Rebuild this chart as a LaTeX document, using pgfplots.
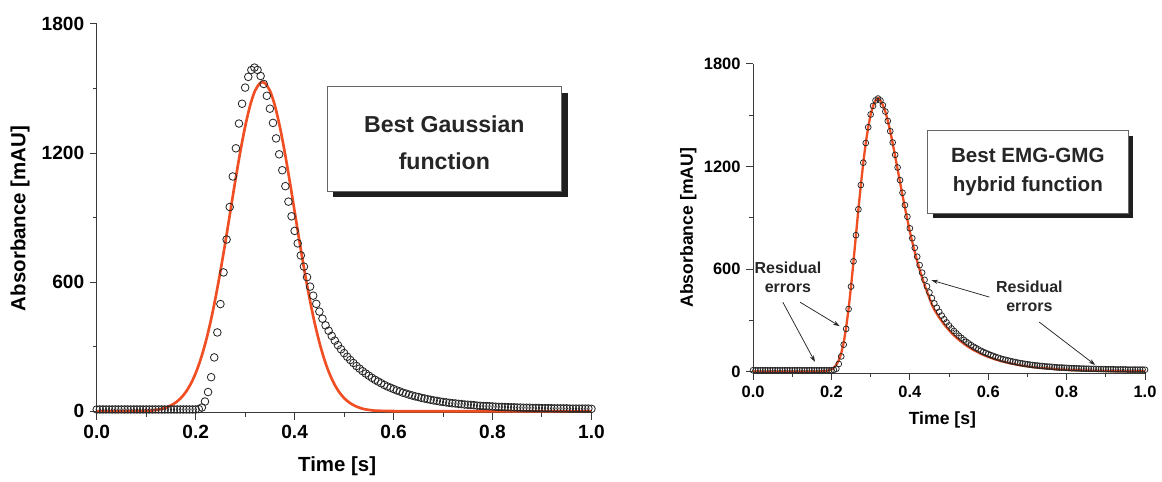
\documentclass[border=0pt]{standalone}
\usepackage{pgfplots}
\pgfplotsset{compat=1.18}
\usepackage{pgfplotstable}
\usepackage{fontspec}
\setmainfont{Liberation Sans}
\usetikzlibrary{arrows.meta}

\definecolor{fitred}{HTML}{F04E23}
\definecolor{axisgray}{HTML}{3A3A3A}

% measured peak (y) and EMG-GMG hybrid fit (h)
\pgfplotstableread{
x y h
0 8 0
0.00625 8 0
0.0125 8 0
0.01875 8 0
0.025 8 0
0.03125 8 0
0.0375 8 0
0.04375 8 0
0.05 8 0
0.05625 8 0
0.0625 8 0
0.06875 8 0
0.075 8 0
0.08125 8 0
0.0875 8 0
0.09375 8 0
0.1 8 0
0.10625 8 0
0.1125 8 0
0.11875 8 0
0.125 8 0
0.13125 8 0
0.1375 8 0
0.14375 8 0
0.15 8 0
0.15625 8 0
0.1625 8 0
0.16875 8 1
0.175 8 2
0.18125 8 3
0.1875 8 5
0.19375 8 8
0.2 8 14
0.20625 10 24
0.2125 17 40
0.21875 45 66
0.225 89 108
0.23125 158 170
0.2375 250 258
0.24375 366 368
0.25 498 498
0.25625 645 645
0.2625 798 798
0.26875 949 949
0.275 1091 1091
0.28125 1222 1222
0.2875 1337 1337
0.29375 1429 1429
0.3 1504 1504
0.30625 1554 1554
0.3125 1586 1586
0.31875 1597 1600
0.325 1586 1586
0.33125 1558 1558
0.3375 1521 1521
0.34375 1466 1466
0.35 1406 1406
0.35625 1340 1335
0.3625 1268 1260
0.36875 1194 1184
0.375 1120 1108
0.38125 1046 1032
0.3875 974 958
0.39375 906 888
0.4 838 819
0.40625 780 758
0.4125 724 700
0.41875 672 646
0.425 623 596
0.43125 579 550
0.4375 537 507
0.44375 499 468
0.45 463 430
0.45625 430 391
0.4625 399 362
0.46875 374 339
0.475 350 316
0.48125 328 296
0.4875 307 276
0.49375 288 259
0.5 270 242
0.50625 253 226
0.5125 238 212
0.51875 224 199
0.525 210 186
0.53125 198 175
0.5375 186 164
0.54375 175 153
0.55 165 144
0.55625 155 135
0.5625 146 126
0.56875 138 119
0.575 130 112
0.58125 122 104
0.5875 115 98
0.59375 109 92
0.6 103 86
0.60625 97 81
0.6125 92 76
0.61875 86 71
0.625 82 67
0.63125 77 62
0.6375 73 59
0.64375 69 55
0.65 66 52
0.65625 62 48
0.6625 59 46
0.66875 56 43
0.675 53 40
0.68125 50 37
0.6875 48 35
0.69375 45 33
0.7 43 31
0.70625 41 29
0.7125 39 27
0.71875 37 25
0.725 36 24
0.73125 34 22
0.7375 33 21
0.74375 31 20
0.75 30 19
0.75625 29 18
0.7625 28 17
0.76875 26 15
0.775 25 14
0.78125 24 13
0.7875 24 13
0.79375 23 12
0.8 22 11
0.80625 21 10
0.8125 20 9
0.81875 20 9
0.825 19 8
0.83125 19 8
0.8375 18 7
0.84375 18 7
0.85 17 7
0.85625 17 6
0.8625 16 6
0.86875 16 5
0.875 16 5
0.88125 15 5
0.8875 15 5
0.89375 15 4
0.9 14 4
0.90625 14 4
0.9125 14 3
0.91875 14 3
0.925 13 3
0.93125 13 3
0.9375 13 3
0.94375 13 3
0.95 13 3
0.95625 12 2
0.9625 12 2
0.96875 12 2
0.975 12 2
0.98125 12 2
0.9875 12 2
0.99375 12 2
1 11 2
}\peakdata

% best single-Gaussian fit
\pgfplotstableread{
x g
0 0
0.05 0
0.08 1
0.1 2
0.11 3
0.12 6
0.13 10
0.14 17
0.15 27
0.16 41
0.17 61
0.18 89
0.19 127
0.2 177
0.21 241
0.22 320
0.23 415
0.24 526
0.25 651
0.26 786
0.27 928
0.28 1070
0.29 1204
0.3 1323
0.31 1421
0.32 1490
0.33 1525
0.335 1530
0.34 1525
0.35 1490
0.36 1421
0.37 1323
0.38 1204
0.39 1070
0.4 928
0.41 786
0.42 651
0.43 526
0.44 415
0.45 320
0.46 241
0.47 177
0.48 127
0.49 89
0.5 61
0.51 41
0.52 27
0.53 17
0.54 10
0.55 6
0.56 3
0.57 2
0.59 1
0.62 0
1 0
}\gaussfit

\pgfplotsset{
  panel/.style={
    scale only axis,
    xmin=0, xmax=1, ymin=-8, ymax=1800,
    axis x line*=bottom, axis y line*=left,
    axis line style={axisgray, line width=0.6pt},
    every tick/.style={axisgray, line width=0.6pt},
    tick align=outside,
    major tick length=4pt, minor tick length=2.4pt,
    xtick={0,0.2,0.4,0.6,0.8,1},
    ytick={0,600,1200,1800},
    minor x tick num=1, minor y tick num=1,
    /pgf/number format/assume math mode=true,
    /pgf/number format/1000 sep={},
    xticklabel style={/pgf/number format/.cd, fixed, fixed zerofill, precision=1},
    yticklabel style={/pgf/number format/.cd, fixed, precision=0},
    clip=false,
  },
}

\begin{document}
\begin{tikzpicture}
\path (0,0) rectangle (697.2pt,288.6pt);

% ---------- left panel: Gaussian fit ----------
\begin{axis}[panel,
  at={(58.2pt,40.2pt)}, anchor=south west,
  width=297.6pt, height=234pt,
  ticklabel style={font=\fontsize{11.5}{13}\selectfont\bfseries},
  xlabel={Time [s]}, ylabel={Absorbance [mAU]},
  label style={font=\fontsize{12.3}{14}\selectfont\bfseries},
  xlabel style={at={(axis description cs:0.486,-0.138)}, anchor=center},
  ylabel style={at={(axis description cs:-0.155,0.5)}, anchor=center},
]
\addplot[only marks, mark=o, mark size=2.3pt,
  mark options={draw=black!85, line width=0.5pt}] table[x=x, y=y] {\peakdata};
\addplot[fitred, line width=1.6pt, smooth] table[x=x, y=g] {\gaussfit};
\end{axis}

% ---------- right panel: EMG-GMG hybrid fit ----------
\begin{axis}[panel,
  at={(453pt,64.2pt)}, anchor=south west,
  width=235.8pt, height=186pt,
  ticklabel style={font=\fontsize{9.9}{11}\selectfont\bfseries},
  xlabel={Time [s]}, ylabel={Absorbance [mAU]},
  label style={font=\fontsize{10.6}{12}\selectfont\bfseries},
  xlabel style={at={(axis description cs:0.483,-0.152)}, anchor=center},
  ylabel style={at={(axis description cs:-0.165,0.47)}, anchor=center},
]
\addplot[only marks, mark=o, mark size=1.75pt,
  mark options={draw=black!85, line width=0.45pt}] table[x=x, y=y] {\peakdata};
\addplot[fitred, line width=1.4pt] table[x=x, y=h] {\peakdata};

\begin{scope}[font=\fontsize{9.6}{11.5}\selectfont\bfseries, text=black!85]
\node[align=center] at (axis cs:0.089,554) {Residual\\errors};
\node[align=center] at (axis cs:0.705,441) {Residual\\errors};
\end{scope}
\begin{scope}[-{Stealth[length=4pt,width=2.6pt]}, line width=0.45pt, black!85]
\draw (axis cs:0.076,406) -- (axis cs:0.158,57);
\draw (axis cs:0.120,406) -- (axis cs:0.221,266);
\draw (axis cs:0.603,436) -- (axis cs:0.455,535);
\draw (axis cs:0.730,290) -- (axis cs:0.873,39);
\end{scope}
\end{axis}

% ---------- caption boxes with drop shadows ----------
\fill[black!88] (200.4pt,169.8pt) rectangle (341.4pt,232.8pt);
\draw[black!60, line width=0.5pt, fill=white] (196.8pt,173.4pt) rectangle (337.8pt,236.4pt);
\node[font=\fontsize{13.9}{22.2}\selectfont\bfseries, align=center, text=black!85]
  at (267.3pt,202.5pt) {Best Gaussian\\function};

\fill[black!88] (561pt,157.2pt) rectangle (681.6pt,207pt);
\draw[black!60, line width=0.5pt, fill=white] (558pt,160.2pt) rectangle (678.6pt,210pt);
\node[font=\fontsize{12.4}{17.4}\selectfont\bfseries, align=center, text=black!85]
  at (618.3pt,185.1pt) {Best EMG-GMG\\hybrid function};
\end{tikzpicture}
\end{document}
